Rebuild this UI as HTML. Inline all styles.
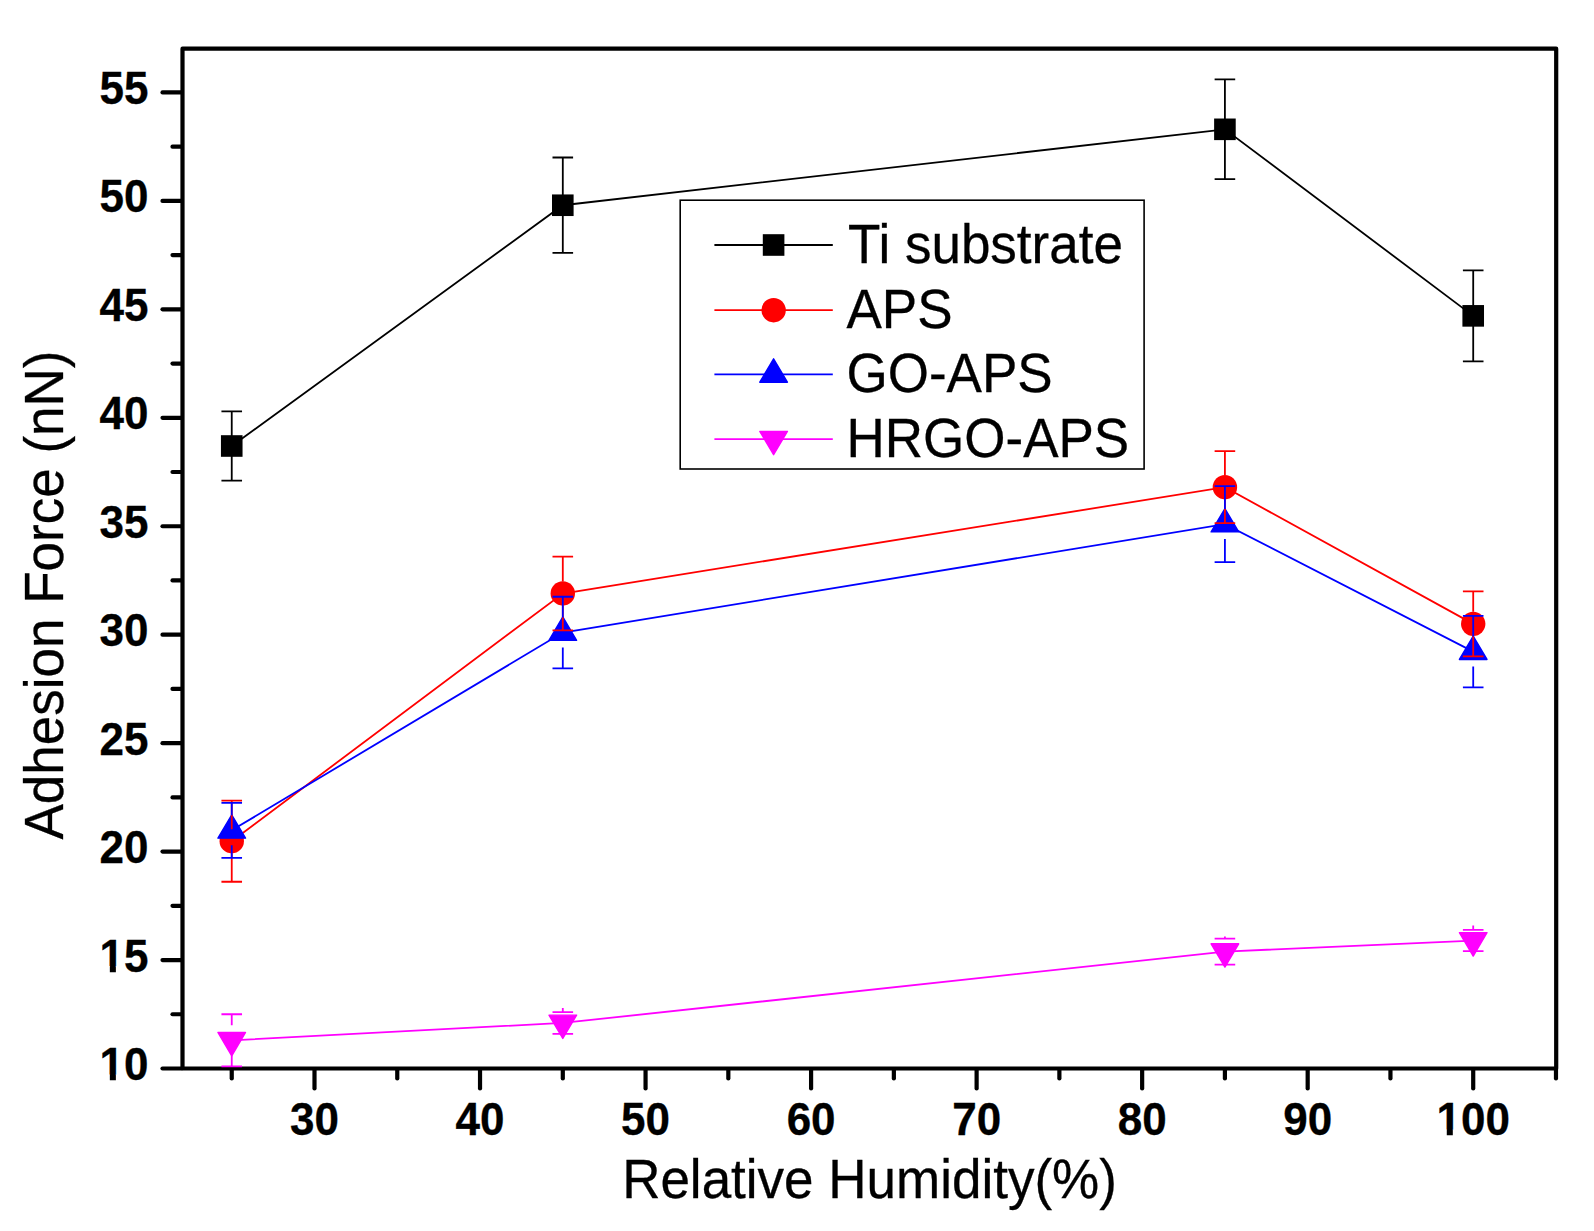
<!DOCTYPE html>
<html lang="en"><head><meta charset="utf-8"><title>Adhesion Force vs Relative Humidity</title>
<style>html,body{margin:0;padding:0;background:#fff;}body{width:1594px;height:1231px;overflow:hidden;}svg{display:block;}text{font-family:"Liberation Sans",sans-serif;fill:#000;stroke:#000;stroke-width:0.3px;}.tk{font-weight:bold;font-size:44px;}.ti{font-size:53px;}.lg{font-size:53px;}</style></head><body>
<svg width="1594" height="1231" viewBox="0 0 1594 1231">
<rect width="1594" height="1231" fill="#fff"/>
<g id="axes" stroke="#000" stroke-width="4.2" fill="none" stroke-linecap="round">
<rect x="182.5" y="48.7" width="1373.70" height="1019.80" stroke-linejoin="round" stroke-linecap="butt"/>
<line x1="181.50" y1="1068.50" x2="162.50" y2="1068.50"/>
<line x1="181.50" y1="1014.27" x2="172.50" y2="1014.27"/>
<line x1="181.50" y1="960.05" x2="162.50" y2="960.05"/>
<line x1="181.50" y1="905.83" x2="172.50" y2="905.83"/>
<line x1="181.50" y1="851.60" x2="162.50" y2="851.60"/>
<line x1="181.50" y1="797.38" x2="172.50" y2="797.38"/>
<line x1="181.50" y1="743.15" x2="162.50" y2="743.15"/>
<line x1="181.50" y1="688.92" x2="172.50" y2="688.92"/>
<line x1="181.50" y1="634.70" x2="162.50" y2="634.70"/>
<line x1="181.50" y1="580.47" x2="172.50" y2="580.47"/>
<line x1="181.50" y1="526.25" x2="162.50" y2="526.25"/>
<line x1="181.50" y1="472.02" x2="172.50" y2="472.02"/>
<line x1="181.50" y1="417.80" x2="162.50" y2="417.80"/>
<line x1="181.50" y1="363.57" x2="172.50" y2="363.57"/>
<line x1="181.50" y1="309.35" x2="162.50" y2="309.35"/>
<line x1="181.50" y1="255.12" x2="172.50" y2="255.12"/>
<line x1="181.50" y1="200.90" x2="162.50" y2="200.90"/>
<line x1="181.50" y1="146.67" x2="172.50" y2="146.67"/>
<line x1="181.50" y1="92.45" x2="162.50" y2="92.45"/>
<line x1="231.74" y1="1069.50" x2="231.74" y2="1078.50"/>
<line x1="314.50" y1="1069.50" x2="314.50" y2="1088.50"/>
<line x1="397.26" y1="1069.50" x2="397.26" y2="1078.50"/>
<line x1="480.03" y1="1069.50" x2="480.03" y2="1088.50"/>
<line x1="562.80" y1="1069.50" x2="562.80" y2="1078.50"/>
<line x1="645.56" y1="1069.50" x2="645.56" y2="1088.50"/>
<line x1="728.33" y1="1069.50" x2="728.33" y2="1078.50"/>
<line x1="811.09" y1="1069.50" x2="811.09" y2="1088.50"/>
<line x1="893.86" y1="1069.50" x2="893.86" y2="1078.50"/>
<line x1="976.62" y1="1069.50" x2="976.62" y2="1088.50"/>
<line x1="1059.38" y1="1069.50" x2="1059.38" y2="1078.50"/>
<line x1="1142.15" y1="1069.50" x2="1142.15" y2="1088.50"/>
<line x1="1224.91" y1="1069.50" x2="1224.91" y2="1078.50"/>
<line x1="1307.68" y1="1069.50" x2="1307.68" y2="1088.50"/>
<line x1="1390.45" y1="1069.50" x2="1390.45" y2="1078.50"/>
<line x1="1473.21" y1="1069.50" x2="1473.21" y2="1088.50"/>
<line x1="1555.98" y1="1069.50" x2="1555.98" y2="1078.50"/>
</g>
<g id="series">
<polyline points="231.74,446.00 562.80,205.24 1224.91,129.32 1473.21,315.86" fill="none" stroke="#000000" stroke-width="1.8"/>
<rect x="220.94" y="435.20" width="21.6" height="21.6" fill="#000000"/>
<rect x="552.00" y="194.44" width="21.6" height="21.6" fill="#000000"/>
<rect x="1214.12" y="118.52" width="21.6" height="21.6" fill="#000000"/>
<rect x="1462.41" y="305.06" width="21.6" height="21.6" fill="#000000"/>
<polyline points="231.74,841.19 562.80,593.49 1224.91,487.21 1473.21,623.86" fill="none" stroke="#ff0000" stroke-width="1.8"/>
<circle cx="231.74" cy="841.19" r="12.2" fill="#ff0000"/>
<circle cx="562.80" cy="593.49" r="12.2" fill="#ff0000"/>
<circle cx="1224.91" cy="487.21" r="12.2" fill="#ff0000"/>
<circle cx="1473.21" cy="623.86" r="12.2" fill="#ff0000"/>
<polyline points="231.74,830.34 562.80,632.53 1224.91,524.08 1473.21,651.62" fill="none" stroke="#0000ff" stroke-width="1.8"/>
<polygon points="231.74,814.80 245.54,838.16 217.94,838.16" fill="#0000ff" stroke="#0000ff" stroke-width="1.4" stroke-linejoin="round"/>
<polygon points="562.80,616.98 576.60,640.35 549.00,640.35" fill="#0000ff" stroke="#0000ff" stroke-width="1.4" stroke-linejoin="round"/>
<polygon points="1224.91,508.53 1238.71,531.90 1211.12,531.90" fill="#0000ff" stroke="#0000ff" stroke-width="1.4" stroke-linejoin="round"/>
<polygon points="1473.21,636.07 1487.01,659.44 1459.41,659.44" fill="#0000ff" stroke="#0000ff" stroke-width="1.4" stroke-linejoin="round"/>
<polyline points="231.74,1040.30 562.80,1022.95 1224.91,951.59 1473.21,940.53" fill="none" stroke="#ff00ff" stroke-width="1.8"/>
<polygon points="231.74,1055.85 245.54,1032.48 217.94,1032.48" fill="#ff00ff" stroke="#ff00ff" stroke-width="1.4" stroke-linejoin="round"/>
<polygon points="562.80,1038.50 576.60,1015.13 549.00,1015.13" fill="#ff00ff" stroke="#ff00ff" stroke-width="1.4" stroke-linejoin="round"/>
<polygon points="1224.91,967.14 1238.71,943.77 1211.12,943.77" fill="#ff00ff" stroke="#ff00ff" stroke-width="1.4" stroke-linejoin="round"/>
<polygon points="1473.21,956.08 1487.01,932.71 1459.41,932.71" fill="#ff00ff" stroke="#ff00ff" stroke-width="1.4" stroke-linejoin="round"/>
</g>
<g id="errors">
<path d="M231.74,436.00V411.29M221.44,411.29H242.04M231.74,456.00V480.70M221.44,480.70H242.04" fill="none" stroke="#000000" stroke-width="1.8" stroke-linecap="butt"/>
<path d="M562.80,195.24V157.52M552.50,157.52H573.10M562.80,215.24V252.96M552.50,252.96H573.10" fill="none" stroke="#000000" stroke-width="1.8" stroke-linecap="butt"/>
<path d="M1224.91,119.32V79.44M1214.62,79.44H1235.21M1224.91,139.32V179.21M1214.62,179.21H1235.21" fill="none" stroke="#000000" stroke-width="1.8" stroke-linecap="butt"/>
<path d="M1473.21,305.86V270.31M1462.91,270.31H1483.51M1473.21,325.86V361.41M1462.91,361.41H1483.51" fill="none" stroke="#000000" stroke-width="1.8" stroke-linecap="butt"/>
<path d="M231.74,829.19V800.63M221.44,800.63H242.04M231.74,853.19V881.75M221.44,881.75H242.04" fill="none" stroke="#ff0000" stroke-width="1.8" stroke-linecap="butt"/>
<path d="M562.80,581.49V556.62M552.50,556.62H573.10M562.80,605.49V630.36M552.50,630.36H573.10" fill="none" stroke="#ff0000" stroke-width="1.8" stroke-linecap="butt"/>
<path d="M1224.91,475.21V451.20M1214.62,451.20H1235.21M1224.91,499.21V523.21M1214.62,523.21H1235.21" fill="none" stroke="#ff0000" stroke-width="1.8" stroke-linecap="butt"/>
<path d="M1473.21,611.86V591.32M1462.91,591.32H1483.51M1473.21,635.86V656.39M1462.91,656.39H1483.51" fill="none" stroke="#ff0000" stroke-width="1.8" stroke-linecap="butt"/>
<path d="M231.74,815.34V802.80M221.44,802.80H242.04M231.74,845.34V857.89M221.44,857.89H242.04" fill="none" stroke="#0000ff" stroke-width="1.8" stroke-linecap="butt"/>
<path d="M562.80,617.53V596.74M552.50,596.74H573.10M562.80,647.53V668.32M552.50,668.32H573.10" fill="none" stroke="#0000ff" stroke-width="1.8" stroke-linecap="butt"/>
<path d="M1224.91,509.08V486.12M1214.62,486.12H1235.21M1224.91,539.08V562.04M1214.62,562.04H1235.21" fill="none" stroke="#0000ff" stroke-width="1.8" stroke-linecap="butt"/>
<path d="M1473.21,636.62V615.83M1462.91,615.83H1483.51M1473.21,666.62V687.41M1462.91,687.41H1483.51" fill="none" stroke="#0000ff" stroke-width="1.8" stroke-linecap="butt"/>
<path d="M231.74,1025.30V1014.27M221.44,1014.27H242.04M231.74,1055.30V1066.33M221.44,1066.33H242.04" fill="none" stroke="#ff00ff" stroke-width="1.8" stroke-linecap="butt"/>
<path d="M562.80,1007.95V1012.11M552.50,1012.11H573.10M562.80,1037.95V1033.80M552.50,1033.80H573.10" fill="none" stroke="#ff00ff" stroke-width="1.8" stroke-linecap="butt"/>
<path d="M1224.91,936.59V938.58M1214.62,938.58H1235.21M1224.91,966.59V964.60M1214.62,964.60H1235.21" fill="none" stroke="#ff00ff" stroke-width="1.8" stroke-linecap="butt"/>
<path d="M1473.21,925.53V929.90M1462.91,929.90H1483.51M1473.21,955.53V951.16M1462.91,951.16H1483.51" fill="none" stroke="#ff00ff" stroke-width="1.8" stroke-linecap="butt"/>
</g>
<g id="ticklabels">
<text class="tk" transform="translate(148.50,1080.00) scale(1,1.03)" text-anchor="end">10</text>
<text class="tk" transform="translate(148.50,971.55) scale(1,1.03)" text-anchor="end">15</text>
<text class="tk" transform="translate(148.50,863.10) scale(1,1.03)" text-anchor="end">20</text>
<text class="tk" transform="translate(148.50,754.65) scale(1,1.03)" text-anchor="end">25</text>
<text class="tk" transform="translate(148.50,646.20) scale(1,1.03)" text-anchor="end">30</text>
<text class="tk" transform="translate(148.50,537.75) scale(1,1.03)" text-anchor="end">35</text>
<text class="tk" transform="translate(148.50,429.30) scale(1,1.03)" text-anchor="end">40</text>
<text class="tk" transform="translate(148.50,320.85) scale(1,1.03)" text-anchor="end">45</text>
<text class="tk" transform="translate(148.50,212.40) scale(1,1.03)" text-anchor="end">50</text>
<text class="tk" transform="translate(148.50,103.95) scale(1,1.03)" text-anchor="end">55</text>
<text class="tk" transform="translate(314.50,1135.00) scale(1,1.03)" text-anchor="middle">30</text>
<text class="tk" transform="translate(480.03,1135.00) scale(1,1.03)" text-anchor="middle">40</text>
<text class="tk" transform="translate(645.56,1135.00) scale(1,1.03)" text-anchor="middle">50</text>
<text class="tk" transform="translate(811.09,1135.00) scale(1,1.03)" text-anchor="middle">60</text>
<text class="tk" transform="translate(976.62,1135.00) scale(1,1.03)" text-anchor="middle">70</text>
<text class="tk" transform="translate(1142.15,1135.00) scale(1,1.03)" text-anchor="middle">80</text>
<text class="tk" transform="translate(1307.68,1135.00) scale(1,1.03)" text-anchor="middle">90</text>
<text class="tk" transform="translate(1473.21,1135.00) scale(1,1.03)" text-anchor="middle">100</text>
</g>
<g id="onefix">
<rect x="100.85" y="1074.58" width="8.98" height="7.62" fill="#fff"/><rect x="115.87" y="1074.58" width="8.40" height="7.62" fill="#fff"/>
<rect x="100.85" y="966.13" width="8.98" height="7.62" fill="#fff"/><rect x="115.87" y="966.13" width="8.40" height="7.62" fill="#fff"/>
<rect x="1437.79" y="1129.58" width="8.98" height="7.62" fill="#fff"/><rect x="1452.81" y="1129.58" width="8.40" height="7.62" fill="#fff"/>
</g>
<text class="ti" transform="translate(869.50,1198.00) scale(1,1.03)" text-anchor="middle">Relative Humidity(%)</text>
<text class="ti" transform="translate(63.20,595.00) rotate(-90) scale(1,1.03)" text-anchor="middle">Adhesion Force (nN)</text>
<g id="legend">
<rect x="680.2" y="200.2" width="463.9" height="268.8" fill="#fff" stroke="#000" stroke-width="1.6"/>
<line x1="714.4" y1="245" x2="832.8" y2="245" stroke="#000000" stroke-width="1.8"/>
<rect x="762.80" y="234.20" width="21.6" height="21.6" fill="#000000"/>
<text class="lg" transform="translate(848.00,262.90) scale(1,1.03)" text-anchor="start">Ti substrate</text>
<line x1="714.4" y1="310.2" x2="832.8" y2="310.2" stroke="#ff0000" stroke-width="1.8"/>
<circle cx="773.60" cy="310.20" r="12.2" fill="#ff0000"/>
<text class="lg" transform="translate(846.50,327.60) scale(1,1.03)" text-anchor="start">APS</text>
<line x1="714.4" y1="374.4" x2="832.8" y2="374.4" stroke="#0000ff" stroke-width="1.8"/>
<polygon points="773.60,358.85 787.40,382.22 759.80,382.22" fill="#0000ff" stroke="#0000ff" stroke-width="1.4" stroke-linejoin="round"/>
<text class="lg" transform="translate(846.50,391.80) scale(1,1.03)" text-anchor="start">GO-APS</text>
<line x1="714.4" y1="439.2" x2="832.8" y2="439.2" stroke="#ff00ff" stroke-width="1.8"/>
<polygon points="773.60,454.75 787.40,431.38 759.80,431.38" fill="#ff00ff" stroke="#ff00ff" stroke-width="1.4" stroke-linejoin="round"/>
<text class="lg" transform="translate(846.50,456.60) scale(1,1.03)" text-anchor="start">HRGO-APS</text>
</g>
</svg></body></html>
